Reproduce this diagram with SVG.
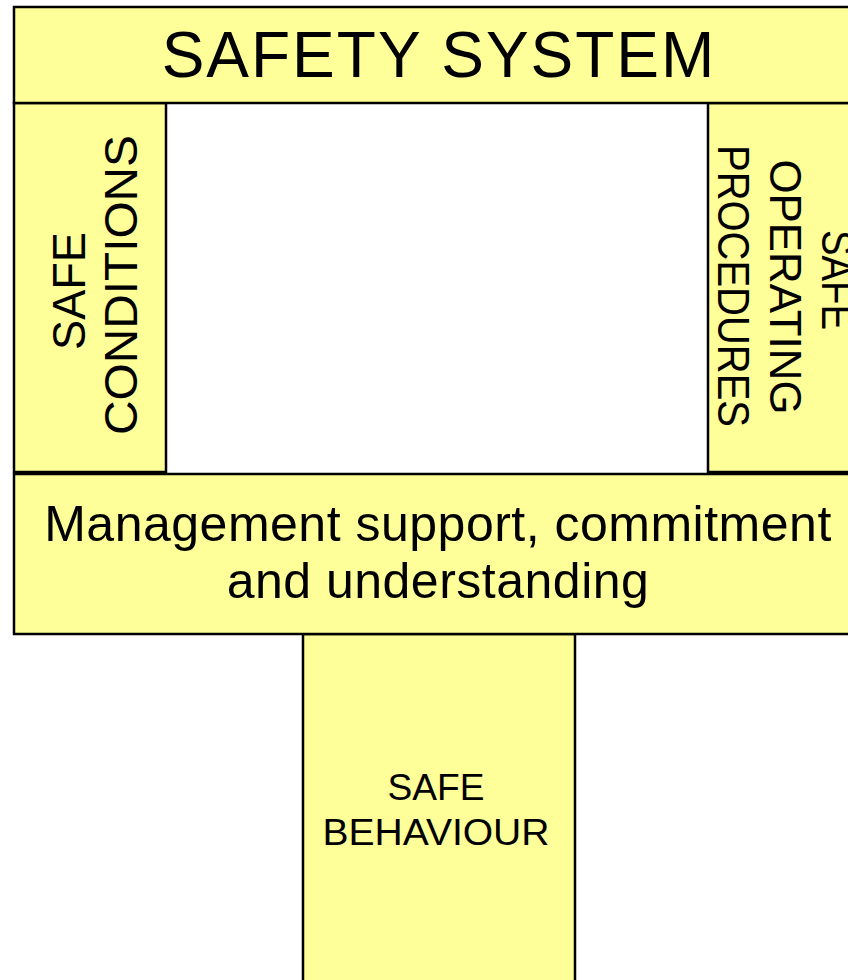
<svg xmlns="http://www.w3.org/2000/svg" width="848" height="980" viewBox="0 0 848 980">
<style>
.box{fill:#FFFF99;stroke:#000;stroke-width:2.5}
.t{font-family:"Liberation Sans",Arial,sans-serif;fill:#000;text-anchor:middle}
</style>
<rect x="0" y="0" width="848" height="980" fill="#fff"/>
<g id="connectors"></g>
<g id="safe-behaviour">
<rect class="box" x="303" y="634" width="272" height="360"/>
<text class="t" x="436" y="800" font-size="36" textLength="97" lengthAdjust="spacingAndGlyphs">SAFE</text>
<text class="t" x="436" y="845" font-size="36" textLength="227" lengthAdjust="spacingAndGlyphs">BEHAVIOUR</text>
</g>
<g id="safe-conditions">
<rect class="box" x="14" y="103" width="152" height="369"/>
<text class="t" font-size="47" textLength="118" lengthAdjust="spacingAndGlyphs" transform="translate(85,291) rotate(-90)">SAFE</text>
<text class="t" font-size="47" textLength="300" lengthAdjust="spacingAndGlyphs" transform="translate(137,285) rotate(-90)">CONDITIONS</text>
</g>
<g id="safe-operating-procedures">
<rect class="box" x="708" y="103" width="156" height="369"/>
<text class="t" font-size="45" textLength="100" lengthAdjust="spacingAndGlyphs" transform="translate(822,280) rotate(90)">SAFE</text>
<text class="t" font-size="45" textLength="255" lengthAdjust="spacingAndGlyphs" transform="translate(770,287) rotate(90)">OPERATING</text>
<text class="t" font-size="44" textLength="282" lengthAdjust="spacingAndGlyphs" transform="translate(718,286) rotate(90)">PROCEDURES</text>
</g>
<g id="safety-system">
<rect class="box" x="14" y="7" width="860" height="96"/>
<text class="t" x="439" y="77" font-size="64" letter-spacing="2">SAFETY SYSTEM</text>
</g>
<g id="management">
<rect class="box" x="14" y="474" width="860" height="160"/>
<text class="t" x="438" y="541" font-size="50" letter-spacing="0.5">Management support, commitment</text>
<text class="t" x="438" y="598" font-size="50" letter-spacing="0.5">and understanding</text>
</g>
</svg>
